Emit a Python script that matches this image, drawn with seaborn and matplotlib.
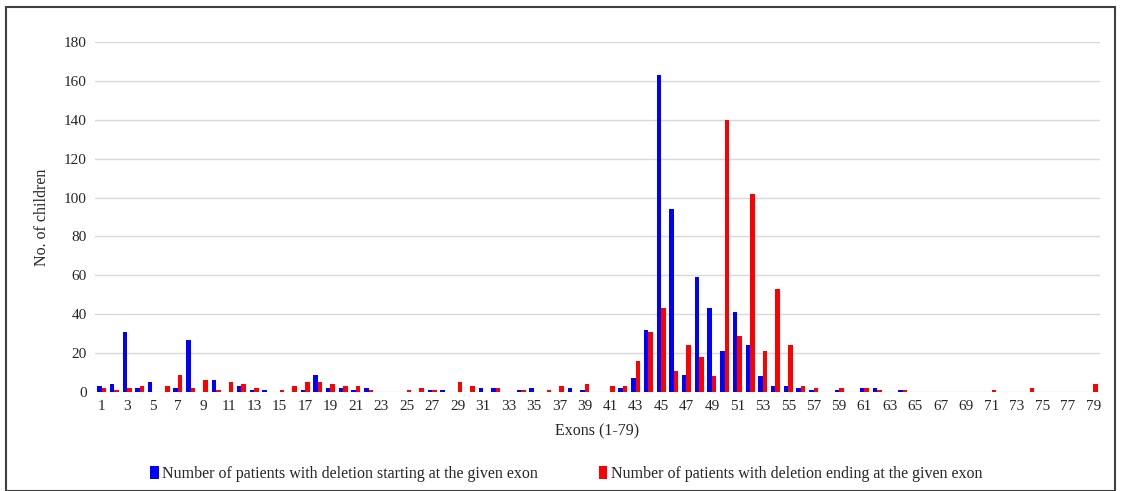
import numpy as np
import pandas as pd
import seaborn as sns
import matplotlib.pyplot as plt
from matplotlib.patches import Rectangle

exons = list(range(1, 80))

# patients with deletion starting at exon n
start_counts = [3, 4, 31, 2, 5, 0, 2, 27, 0, 6,        # 1-10
                0, 3, 1, 1, 0, 0, 1, 9, 2, 2,          # 11-20
                1, 2, 0, 0, 0, 0, 1, 1, 0, 0,          # 21-30
                2, 2, 0, 1, 2, 0, 0, 2, 1, 0,          # 31-40
                0, 2, 7, 32, 163, 94, 9, 59, 43, 21,   # 41-50
                41, 24, 8, 3, 3, 2, 1, 0, 1, 0,        # 51-60
                2, 2, 0, 1, 0, 0, 0, 0, 0, 0,          # 61-70
                0, 0, 0, 0, 0, 0, 0, 0, 0]             # 71-79

# patients with deletion ending at exon n
end_counts = [2, 1, 2, 3, 0, 3, 9, 2, 6, 1,
              5, 4, 2, 0, 1, 3, 5, 5, 4, 3,
              3, 1, 0, 0, 1, 2, 1, 0, 5, 3,
              0, 2, 0, 1, 0, 1, 3, 0, 4, 0,
              3, 3, 16, 31, 43, 11, 24, 18, 8, 140,
              29, 102, 21, 53, 24, 3, 2, 0, 2, 0,
              2, 1, 0, 1, 0, 0, 0, 0, 0, 0,
              1, 0, 0, 2, 0, 0, 0, 0, 4]

series_names = ['Number of patients with deletion starting at the given exon',
                'Number of patients with deletion ending at the given exon']

df = pd.DataFrame({
    'exon': exons * 2,
    'count': start_counts + end_counts,
    'series': [series_names[0]] * 79 + [series_names[1]] * 79,
})

sns.set_style('white')
plt.rcParams['font.family'] = ['Liberation Serif', 'DejaVu Serif']

fig = plt.figure(figsize=(11.21, 4.91), dpi=100)
ax = fig.add_axes([0.085, 0.2016, 0.896, 0.7129])

sns.barplot(data=df, x='exon', y='count', hue='series', order=exons,
            hue_order=series_names, palette=['#0000FF', '#FF0000'],
            width=0.7, saturation=1, linewidth=0, ax=ax, legend=True)

ax.set_ylim(0, 180)
ax.set_xlim(-0.5, 78.5)
ax.set_yticks(range(0, 181, 20))
ax.set_xticks(range(0, 79, 2))
ax.set_xticklabels([str(e) for e in exons[::2]])
ax.tick_params(axis='both', length=0, labelsize=11, pad=6)
ax.grid(axis='y', color='#d9d9d9', linewidth=1)
ax.set_axisbelow(True)
for s in ax.spines.values():
    s.set_visible(False)

ax.set_xlabel('Exons (1-79)', fontsize=11.5, labelpad=7)
ax.set_ylabel('No. of children', fontsize=11.5, labelpad=10)

handles, labels = ax.get_legend_handles_labels()
ax.get_legend().remove()
fig.legend(handles, labels, loc='center', bbox_to_anchor=(0.505, 0.035),
           ncol=2, frameon=False, fontsize=11.5, handlelength=0.55,
           handleheight=0.9, handletextpad=0.2, columnspacing=3.8)

fig.patches.append(Rectangle((0.005, 0.0), 0.99, 0.985, transform=fig.transFigure,
                             fill=False, edgecolor='#404040', linewidth=1.5))

fig.savefig('out.png', dpi=100)
